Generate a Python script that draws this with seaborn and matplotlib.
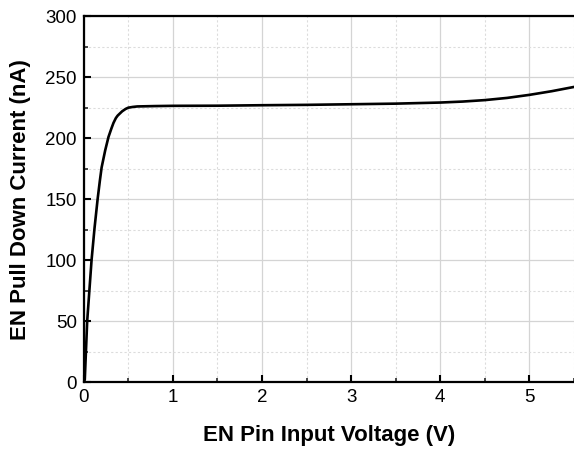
import matplotlib
matplotlib.use("Agg")
import matplotlib.pyplot as plt
import seaborn as sns
import pandas as pd
from matplotlib.ticker import MultipleLocator

voltage = [0.0, 0.011, 0.038, 0.087, 0.12, 0.155, 0.18, 0.2, 0.24, 0.277, 0.31, 0.333, 0.36, 0.38,
           0.43, 0.47, 0.5, 0.55, 0.6, 0.8,
           1.0, 1.5, 2.0, 2.5, 3.0, 3.5, 4.0, 4.25, 4.5, 4.75, 5.0, 5.25, 5.5]
current = [0.0, 2.0, 50.0, 100.0, 126.0, 150.0, 165.0, 176.0, 190.0, 201.0, 208.0, 212.5, 216.5, 218.5,
           222.0, 224.0, 225.0, 225.6, 226.0, 226.3,
           226.5, 226.6, 227.0, 227.3, 227.8, 228.3, 229.2, 230.0, 231.2, 233.0, 235.5, 238.5, 242.0]

df = pd.DataFrame({"V": voltage, "I": current})

sns.set_theme(style="white")
plt.rcParams["font.family"] = ["Liberation Sans", "DejaVu Sans"]

fig = plt.figure(figsize=(5.74, 4.5), dpi=100)
ax = fig.add_axes([0.146, 0.151, 0.854, 0.813])

sns.lineplot(data=df, x="V", y="I", ax=ax, color="black", linewidth=1.9, estimator=None, sort=False)

ax.set_xlim(0, 5.5)
ax.set_ylim(0, 300)
ax.xaxis.set_major_locator(MultipleLocator(1))
ax.xaxis.set_minor_locator(MultipleLocator(0.5))
ax.yaxis.set_major_locator(MultipleLocator(50))
ax.yaxis.set_minor_locator(MultipleLocator(25))

ax.grid(True, which="major", color="#d4d4d4", linewidth=0.9, linestyle="-")
ax.grid(True, which="minor", color="#dcdcdc", linewidth=0.8, linestyle=(0, (2, 2)))
ax.set_axisbelow(True)

for s in ["left", "bottom", "top"]:
    ax.spines[s].set_visible(True)
    ax.spines[s].set_color("black")
    ax.spines[s].set_linewidth(1.6)
ax.spines["right"].set_visible(False)

ax.tick_params(axis="both", which="major", direction="in", length=5, width=1.5,
               labelsize=13.5, colors="black", labelcolor="black",
               bottom=True, left=True, top=False, right=False, pad=5)
ax.tick_params(axis="both", which="minor", direction="in", length=3, width=1.2,
               bottom=True, left=True, top=False, right=False)

ax.set_xlabel("EN Pin Input Voltage (V)", fontsize=16, fontweight="bold", labelpad=14, color="black")
ax.set_ylabel("EN Pull Down Current (nA)", fontsize=16, fontweight="bold", labelpad=10, color="black")

fig.savefig("out.png", dpi=100)
